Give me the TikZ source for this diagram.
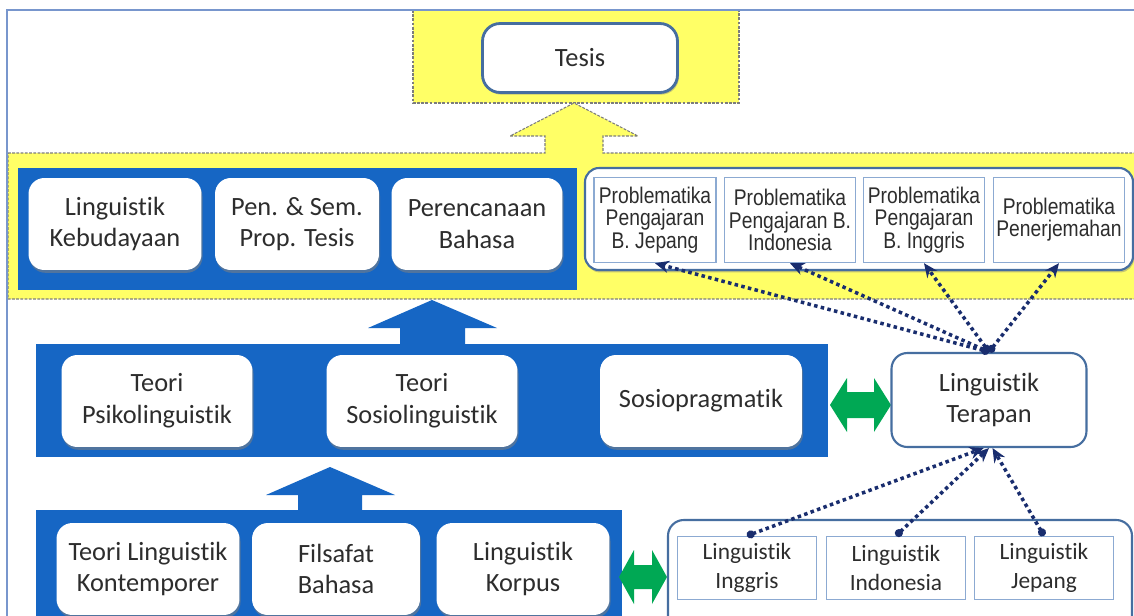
\documentclass[tikz,border=0pt]{standalone}
\usepackage{fontspec}
\setmainfont{Carlito}[Ligatures=NoCommon]
\newfontfamily\probfont[FakeStretch=0.85]{Liberation Sans}
\usepackage{tikz}
\usetikzlibrary{shadows,arrows.meta}
\definecolor{bandyellow}{RGB}{255,255,102}
\definecolor{rowblue}{RGB}{22,102,196}
\definecolor{framegray}{RGB}{125,125,125}
\definecolor{edgeblue}{RGB}{70,110,160}
\definecolor{thinblue}{RGB}{140,170,210}
\definecolor{framelight}{RGB}{120,150,205}
\definecolor{arrowgreen}{RGB}{0,168,84}
\definecolor{dotnavy}{RGB}{25,45,110}
\definecolor{textgray}{RGB}{45,45,45}

\begin{document}
\begin{tikzpicture}[x=0.02cm,y=-0.02cm]
\tikzstyle{every node}=[align=center,text=textgray,inner sep=0pt];
\tikzstyle{whitebox}=[fill=white,rounded corners=9pt,minimum height=1.84cm,drop shadow={shadow xshift=0.6pt,shadow yshift=-1.6pt,opacity=0.55},font=\fontsize{15}{18}\selectfont];
\tikzstyle{probbox}=[fill=white,draw=thinblue,line width=0.8pt,minimum height=1.7cm,font=\probfont\fontsize{12.9}{12.6}\selectfont];
\tikzstyle{langbox}=[fill=white,draw=thinblue,line width=0.8pt,minimum height=1.26cm,minimum width=2.77cm,font=\fontsize{13.3}{16.5}\selectfont];
\tikzstyle{dashedge}=[draw=framegray,line width=0.6pt,dash pattern=on 1.6pt off 0.8pt];
\tikzstyle{dotarrow}=[dotnavy,line width=2pt,dash pattern=on 2pt off 1.9pt,{Circle[length=4.5pt]}-{Stealth[length=8pt,width=7pt]}];
\useasboundingbox (0,0) rectangle (1134,616);
\clip (0,0) rectangle (1134,616);

\fill[white] (0,0) rectangle (1134,616);
\draw[dashedge,fill=bandyellow] (413,10) rectangle (739,103);
\draw[dashedge,fill=bandyellow] (8,153) -- (545,153) -- (545,136) -- (510,136) -- (574,103) -- (638,136) -- (603,136) -- (603,153) -- (1140,153) -- (1140,299) -- (8,299) -- cycle;
\draw[framelight,line width=1pt] (7,630) -- (7,10) -- (1140,10);

\fill[rowblue] (18,168) rectangle (577,290);
\fill[rowblue] (36,344) rectangle (828,457);
\fill[rowblue] (400,344) -- (400,328) -- (368,328) -- (432,300) -- (497,328) -- (465,328) -- (465,344) -- cycle;
\fill[rowblue] (36,510) rectangle (622,630);
\fill[rowblue] (298,510) -- (298,495) -- (266,495) -- (330,467) -- (395,495) -- (362,495) -- (362,510) -- cycle;

\fill[arrowgreen] (830,405) -- (847,378) -- (847,392) -- (874,392) -- (874,378) -- (891,405) -- (874,432) -- (874,418) -- (847,418) -- (847,432) -- cycle;
\fill[arrowgreen] (619,577) -- (634,550) -- (634,565) -- (652,565) -- (652,550) -- (667,577) -- (652,604) -- (652,589) -- (634,589) -- (634,604) -- cycle;

\node[fill=white,draw=edgeblue,line width=1.6pt,rounded corners=10pt,minimum width=3.9cm,minimum height=1.38cm,drop shadow={shadow xshift=0.8pt,shadow yshift=-1.2pt,opacity=0.45},font=\fontsize{15}{18}\selectfont](T) at(580,58){Tesis};

\node[whitebox,minimum width=3.46cm](LK) at(115,224){Linguistik\\Kebudayaan};
\node[whitebox,minimum width=3.28cm](PS) at(297,224){Pen. \& Sem.\\Prop. Tesis};
\node[whitebox,minimum width=3.42cm](PB) at(477,224){Perencanaan\\Bahasa};

\draw[fill=white,draw=edgeblue,line width=1.2pt,rounded corners=8pt,drop shadow={shadow xshift=0.6pt,shadow yshift=-1.4pt,opacity=0.45}] (585,168) rectangle (1133,270);
\node[probbox,minimum width=2.44cm](PJ) at(655,220){Problematika\\Pengajaran\\B. Jepang};
\node[probbox,minimum width=2.62cm](PI) at(790,220){Problematika\\Pengajaran B.\\Indonesia};
\node[probbox,minimum width=2.42cm](PG) at(924,220){Problematika\\Pengajaran\\B. Inggris};
\node[probbox,minimum width=2.62cm](PP) at(1059,220){Problematika\\Penerjemahan};

\node[whitebox,minimum width=3.82cm](TP) at(157,401){Teori\\Psikolinguistik};
\node[whitebox,minimum width=3.82cm](TS) at(422,401){Teori\\Sosiolinguistik};
\node[whitebox,minimum width=4.04cm](SP) at(701,401){Sosiopragmatik};

\node[fill=white,draw=edgeblue,line width=1.2pt,rounded corners=9pt,minimum width=3.9cm,minimum height=1.88cm,font=\fontsize{15}{18}\selectfont](LT) at(989,400){Linguistik\\Terapan};

\node[whitebox,minimum width=3.66cm](TK) at(148,569){Teori Linguistik\\Kontemporer};
\node[whitebox,minimum width=3.36cm](FB) at(336,569){Filsafat\\Bahasa};
\node[whitebox,minimum width=3.46cm](KO) at(523,569){Linguistik\\Korpus};

\draw[fill=white,draw=edgeblue,line width=1.2pt,rounded corners=9pt] (668,520) rectangle (1132,640);
\node[langbox](LI) at(747,568){Linguistik\\Inggris};
\node[langbox](LN) at(896,568){Linguistik\\Indonesia};
\node[langbox](LJ) at(1044,568){Linguistik\\Jepang};

\foreach \n in {PJ,PI,PG,PP}
  \draw[dotarrow] (LT.north) -- (\n.south);
\draw[dotarrow] (LI.north) -- ([xshift=-3pt]LT.south);
\draw[dotarrow] (LN.north) -- (LT.south);
\draw[dotarrow] (LJ.north) -- ([xshift=2pt]LT.south);

\end{tikzpicture}
\end{document}
